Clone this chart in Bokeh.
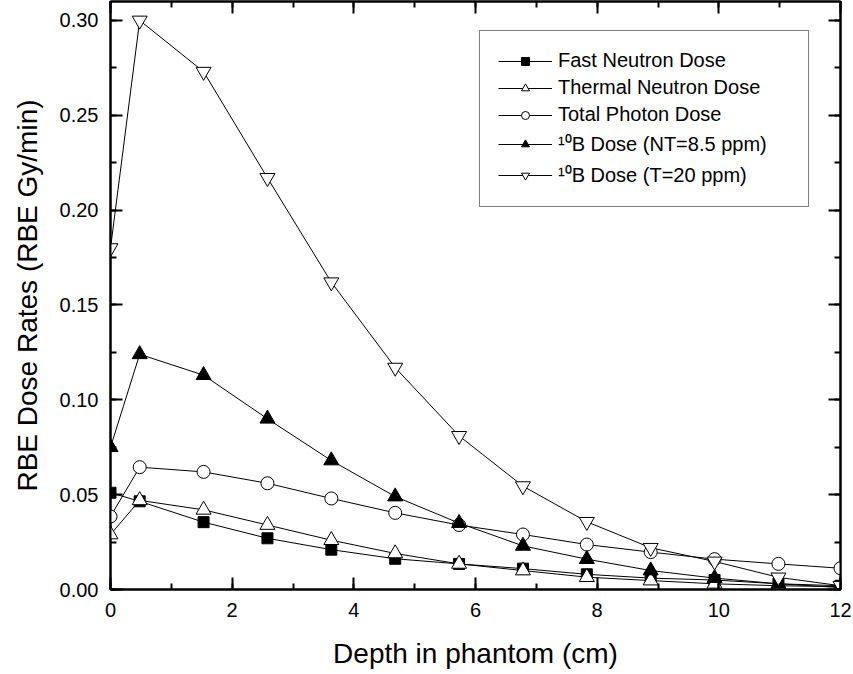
from bokeh.plotting import figure
from bokeh.models import (Range1d, LinearAxis, SingleIntervalTicker, PrintfTickFormatter,
                          Legend, LegendItem)
from bokeh.embed import file_html
from bokeh.resources import INLINE

# ---- data ----
depth = [0.0, 0.48, 1.53, 2.58, 3.63, 4.68, 5.73, 6.78, 7.83, 8.88, 9.93, 10.98, 12.0]
fast_neutron = [0.051, 0.0465, 0.0355, 0.027, 0.021, 0.0162, 0.0135, 0.011, 0.008, 0.006, 0.005, 0.003, 0.002]
thermal_neutron = [0.029, 0.047, 0.042, 0.034, 0.026, 0.019, 0.0135, 0.010, 0.0065, 0.0047, 0.003, 0.002, 0.0015]
total_photon = [0.0385, 0.0645, 0.062, 0.056, 0.048, 0.0404, 0.034, 0.029, 0.0237, 0.0197, 0.016, 0.0135, 0.0112]
b10_nt = [0.075, 0.124, 0.113, 0.090, 0.068, 0.049, 0.035, 0.023, 0.016, 0.010, 0.006, 0.003, 0.001]
b10_t = [0.180, 0.300, 0.273, 0.217, 0.162, 0.117, 0.081, 0.0545, 0.0357, 0.022, 0.0148, 0.0064, 0.002]

labels = ["Fast Neutron Dose", "Thermal Neutron Dose", "Total Photon Dose",
          "\u00b9\u2070B Dose (NT=8.5 ppm)", "\u00b9\u2070B Dose (T=20 ppm)"]
x_label = "Depth in phantom (cm)"
y_label = "RBE Dose Rates (RBE Gy/min)"

FONT = "Liberation Sans"

p = figure(width=853, height=674, output_backend="svg", toolbar_location=None,
           x_range=Range1d(0, 12), y_range=Range1d(0, 0.31),
           min_border_left=110, min_border_right=13, min_border_top=1, min_border_bottom=85,
           x_axis_type=None, y_axis_type=None)
p.background_fill_color = "white"
p.border_fill_color = "white"
p.outline_line_color = "black"
p.outline_line_width = 2
p.xgrid.visible = False
p.ygrid.visible = False


def style_axis(ax, show_labels):
    ax.axis_line_color = "black"
    ax.axis_line_width = 2
    ax.major_tick_in = 12
    ax.major_tick_out = 0
    ax.minor_tick_in = 6
    ax.minor_tick_out = 0
    ax.major_tick_line_width = 2
    ax.minor_tick_line_width = 2
    ax.major_tick_line_color = "black"
    ax.minor_tick_line_color = "black"
    if show_labels:
        ax.major_label_text_font = FONT
        ax.major_label_text_color = "black"
        ax.axis_label_text_font = FONT
        ax.axis_label_text_font_style = "normal"
        ax.axis_label_text_color = "black"
    else:
        ax.major_label_text_font_size = "1px"
        ax.major_label_text_color = None
        ax.major_label_standoff = 0
        ax.axis_label = None


xb = LinearAxis(ticker=SingleIntervalTicker(interval=2, num_minor_ticks=2), axis_label=x_label)
style_axis(xb, True)
xb.major_label_text_font_size = "20px"
xb.major_label_standoff = 13
xb.axis_label_text_font_size = "28px"
xb.axis_label_standoff = 18
p.add_layout(xb, "below")

yl = LinearAxis(ticker=SingleIntervalTicker(interval=0.05, num_minor_ticks=2), axis_label=y_label,
                formatter=PrintfTickFormatter(format="%.2f"))
style_axis(yl, True)
yl.major_label_text_font_size = "20px"
yl.major_label_standoff = 12
yl.axis_label_text_font_size = "28px"
yl.axis_label_standoff = 14
p.add_layout(yl, "left")

xt = LinearAxis(ticker=SingleIntervalTicker(interval=2, num_minor_ticks=2))
style_axis(xt, False)
p.add_layout(xt, "above")

yr = LinearAxis(ticker=SingleIntervalTicker(interval=0.05, num_minor_ticks=2))
style_axis(yr, False)
p.add_layout(yr, "right")

series = [
    (fast_neutron, "square", "black", 11),
    (thermal_neutron, "triangle", "white", 15),
    (total_photon, "circle", "white", 13),
    (b10_nt, "triangle", "black", 15),
    (b10_t, "inverted_triangle", "white", 15),
]

line_renderers = []
for ys, _, _, _ in series:
    line_renderers.append(p.line(depth, ys, line_color="black", line_width=1))

items = []
for (ys, marker, fill, size), lr, lab in zip(series, line_renderers, labels):
    sr = p.scatter(depth, ys, marker=marker, size=size, fill_color=fill,
                   line_color="black", line_width=1)
    items.append(LegendItem(label=lab, renderers=[lr, sr]))

legend = Legend(items=items, location=(369, 382))
legend.label_text_font = FONT
legend.label_text_font_size = "20px"
legend.label_text_color = "black"
legend.glyph_width = 54
legend.glyph_height = 20
legend.label_standoff = 6
legend.label_width = 232
legend.label_height = 20
legend.spacing = 4
legend.padding = 18
legend.margin = 0
legend.border_line_color = "black"
legend.border_line_width = 1
legend.background_fill_color = "white"
legend.background_fill_alpha = 1
p.add_layout(legend, "center")

open("out.html", "w").write(file_html(p, INLINE))
